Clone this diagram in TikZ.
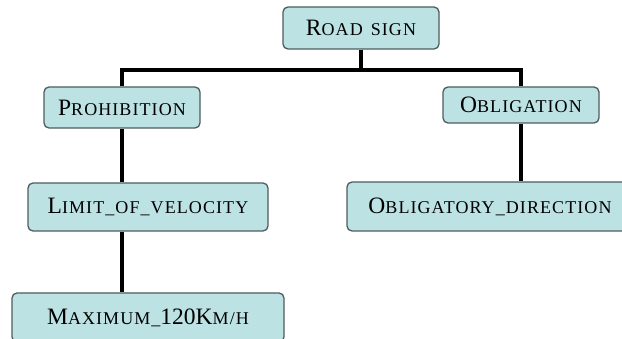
\documentclass[tikz,border=0pt]{standalone}
\usepackage{fontspec}
\setmainfont{Liberation Serif}
\newcommand{\BigL}[1]{{\fontsize{23.5}{26}\selectfont #1}}
\newcommand{\SmL}[1]{{\fontsize{18}{20}\selectfont\addfontfeature{LetterSpace=6}#1}}
\definecolor{boxfill}{HTML}{BCE2E4}
\definecolor{boxborder}{HTML}{4F5C5C}
\tikzset{
  box/.style={draw=boxborder, fill=boxfill, rounded corners=5pt, line width=1.3pt, inner sep=0pt, anchor=center, text=black},
  link/.style={line width=3.2pt, black}
}
\begin{document}
\begin{tikzpicture}[x=1pt,y=-1pt]
\useasboundingbox (0,0) rectangle (622,339);
\clip (0,0) rectangle (622,339);
\fill[white] (0,0) rectangle (622,339);
\node[box, minimum width=156pt, minimum height=42pt] (root) at (361,28) {\BigL{R}\SmL{OAD\hspace{8pt}SIGN}};
\node[box, minimum width=156pt, minimum height=41pt] (proh) at (122,107.5) {\BigL{P}\SmL{ROHIBITION}};
\node[box, minimum width=156pt, minimum height=36pt] (obl) at (521,105) {\BigL{O}\SmL{BLIGATION}};
\node[box, minimum width=240pt, minimum height=48pt] (limit) at (148,207) {\BigL{L}\SmL{IMIT\_OF\_VELOCITY}};
\node[box, minimum width=286pt, minimum height=49pt] (oblig) at (490,206.5) {\BigL{O}\SmL{BLIGATORY\_DIRECTION}};
\node[box, minimum width=272pt, minimum height=49pt] (maxn) at (148,317.5) {\BigL{M}\SmL{AXIMUM\_}\BigL{120K}\SmL{M/H}};
\coordinate (jroot) at (361,70);
\coordinate (jleft) at (122,70);
\coordinate (jright) at (521,70);
\draw[link] (root.south) -- (jroot);
\draw[link, line cap=rect] (jleft) -- (jright);
\draw[link] (jleft) -- (proh.north);
\draw[link] (jright) -- (obl.north);
\draw[link] (proh.south) -- (proh.south |- limit.north);
\draw[link] (proh.south |- limit.south) -- (proh.south |- maxn.north);
\draw[link] (obl.south) -- (obl.south |- oblig.north);
\end{tikzpicture}
\end{document}
